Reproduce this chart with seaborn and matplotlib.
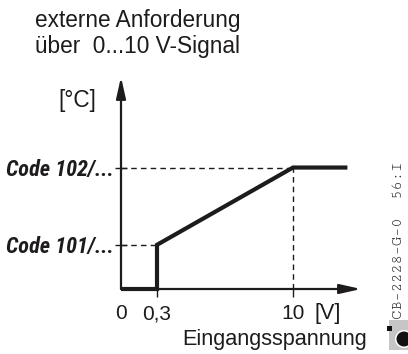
import numpy as np
import pandas as pd
import matplotlib
matplotlib.use("Agg")
import matplotlib.pyplot as plt
from matplotlib.patches import Rectangle, Circle
import seaborn as sns

# Characteristic curve: setpoint temperature versus 0...10 V input signal
volts = [0, 0.3, 0.3, 10, 11.6]
temps = [0, 0, 20, 55, 55]          # schematic temperature levels
code_levels = [20, 55]
code_labels = ["Code 101/...", "Code 102/..."]
volt_ticks = [0, 0.3, 10]
volt_labels = ["0", "0,3", "10"]

sns.set_theme(style="white")
plt.rcParams["font.family"] = ["Liberation Sans", "DejaVu Sans"]

W, H = 408, 354
fig = plt.figure(figsize=(W / 100, H / 100), dpi=100)
ink = "#1e1b1c"

# Schematic (non-proportional) voltage axis
_v = [0, 0.3, 10, 12]
_p = [0, 36, 172, 240]
def fwd(v):
    return np.interp(v, _v, _p)
def inv(p):
    return np.interp(p, _p, _v)

x0, x1, y0, y1 = 121, 361, 289, 77
ax = fig.add_axes([x0 / W, 1 - y0 / H, (x1 - x0) / W, (y0 - y1) / H])
ax.set_xscale("function", functions=(fwd, inv))
ax.set_xlim(0, 12)
ax.set_ylim(0, 96)
for s in ax.spines.values():
    s.set_visible(False)
ax.set_facecolor("none")

# reference dashes
dash = dict(color=ink, lw=1.0, linestyle=(0, (4, 3)), clip_on=False)
ax.hlines(code_levels[0], 0, volts[2], **dash)
ax.hlines(code_levels[1], 0, volts[3], **dash)
ax.vlines(volts[3], 0, code_levels[1], **dash)

# axes with arrow heads
arrow = dict(arrowstyle="-|>,head_length=0.8,head_width=0.18", mutation_scale=16,
             lw=1.6, color=ink, shrinkA=0, shrinkB=0)
ax.annotate("", xy=(1, 0), xytext=(0, 0), xycoords="axes fraction", arrowprops=arrow)
ax.annotate("", xy=(0, 1), xytext=(0, 0), xycoords="axes fraction", arrowprops=arrow)

df = pd.DataFrame({"U": volts, "T": temps})
sns.lineplot(data=df, x="U", y="T", sort=False, estimator=None, ax=ax,
             color=ink, lw=3.0, solid_joinstyle="miter", solid_capstyle="butt")
for ln in ax.lines:
    ln.set_clip_on(False)

ax.set_xlabel("")
ax.set_ylabel("")
ax.set_xticks(volt_ticks)
ax.set_xticklabels(volt_labels, fontsize=15, color=ink)
ax.tick_params(axis="x", direction="out", length=6, width=1.0, color=ink, pad=5, bottom=True)
ax.xaxis.get_major_ticks()[0].tick1line.set_visible(False)
ax.set_yticks(code_levels)
ax.set_yticklabels(code_labels, color=ink)
for t in ax.get_yticklabels():
    t.set_fontfamily(["Roboto Condensed", "Liberation Sans"])
    t.set_fontweight("bold")
    t.set_fontstyle("italic")
    t.set_fontsize(16)
ax.tick_params(axis="y", direction="inout", length=8, width=1.0, color=ink, pad=1, left=True)

# overlay in pixel coordinates for free text and the badge
ov = fig.add_axes([0, 0, 1, 1], zorder=-1)
ov.set_xlim(0, W)
ov.set_ylim(H, 0)
ov.axis("off")
tx = dict(color=ink, fontsize=16.3, va="center", ha="left")
ov.text(35, 20, "externe Anforderung", **tx)
ov.text(35, 47, "über  0...10 V-Signal", **tx)
ov.text(58, 100, "[°C]", **tx)
ov.text(315, 313, "[V]", color=ink, fontsize=15.5, va="center", ha="left")
ov.text(367, 340, "Eingangsspannung", color=ink, fontsize=15.6, va="center", ha="right")
ov.text(399, 240, "CB–2228–G–0  56:I", rotation=90, fontfamily="Cutive Mono",
        fontsize=11, color="#222222", va="center", ha="center")

ov.add_patch(Rectangle((389, 320), 19, 30, color="#c6c6c6", lw=0))
ov.add_patch(Circle((404, 339), 9, color="white", lw=0))
ov.add_patch(Circle((404, 339), 7.5, color="#111111", lw=0))
ov.add_patch(Rectangle((387, 326), 5, 5, color="#111111", lw=0))

fig.savefig("out.png", dpi=100, facecolor="white")
